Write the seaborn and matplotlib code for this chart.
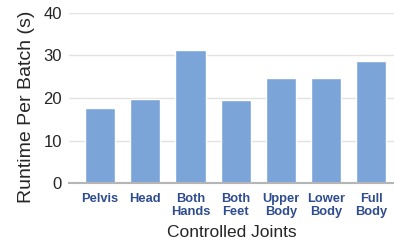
import numpy as np
import pandas as pd
import matplotlib.pyplot as plt
import seaborn as sns

joints = ["Pelvis", "Head", "Both\nHands", "Both\nFeet", "Upper\nBody", "Lower\nBody", "Full\nBody"]
runtime = [17.6, 19.8, 31.3, 19.6, 24.8, 24.6, 28.8]

df = pd.DataFrame({"joint": joints, "runtime": runtime})

sns.set_style("white")
plt.rcParams['font.family'] = ['Liberation Sans', 'DejaVu Sans']

fig = plt.figure(figsize=(3.94, 2.46), dpi=100)
ax = fig.add_axes([0.175, 0.255, 0.825, 0.693])

sns.barplot(data=df, x="joint", y="runtime", color="#7BA5D9", saturation=1,
            width=0.667, ax=ax, zorder=3)

ax.set_ylim(0, 40)
ax.set_xlim(-0.69, 6.5)
ax.set_yticks([0, 10, 20, 30, 40])
ax.yaxis.grid(True, color="#e2e2e2", linewidth=1, zorder=0)
ax.set_axisbelow(True)
for s in ["top", "right", "left"]:
    ax.spines[s].set_visible(False)
ax.spines["bottom"].set_color("#b5b5b5")
ax.spines["bottom"].set_linewidth(1.5)
ax.spines["bottom"].set_zorder(4)

ax.tick_params(axis="y", length=0, labelsize=12, pad=5)
ax.tick_params(axis="x", length=0, pad=7)
for lbl in ax.get_xticklabels():
    lbl.set_fontsize(9.3)
    lbl.set_fontweight("bold")
    lbl.set_color("#2E4C8E")
    lbl.set_linespacing(1.1)

ax.set_xlabel("Controlled Joints", fontsize=12.5, labelpad=5)
ax.set_ylabel("Runtime Per Batch (s)", fontsize=14)
ax.yaxis.set_label_coords(-0.105, 0.45)

plt.savefig("out.png", dpi=100)
